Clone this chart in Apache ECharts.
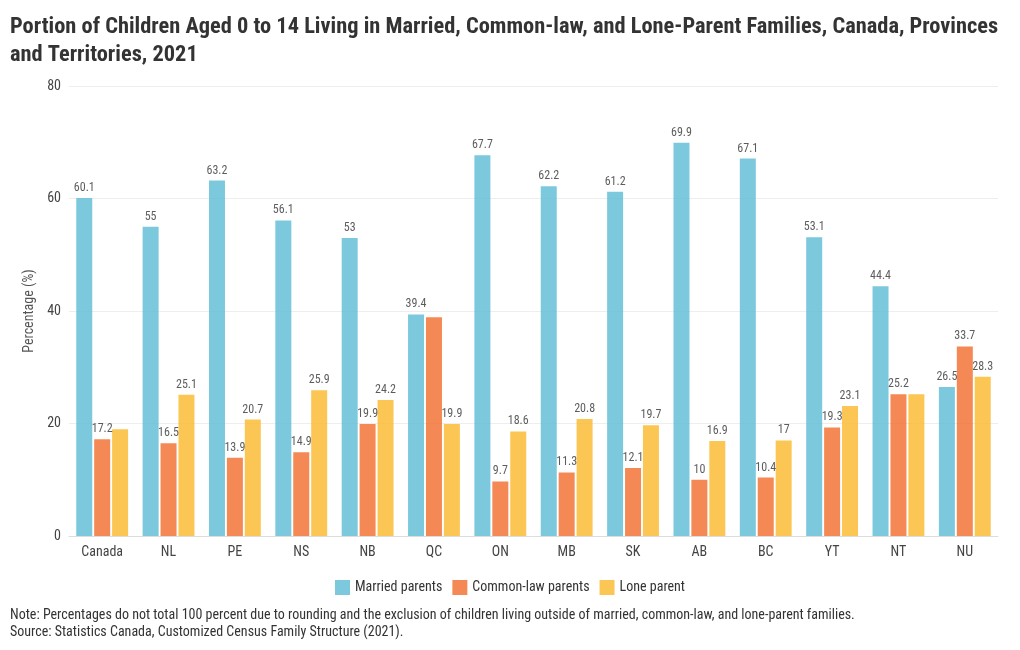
<!DOCTYPE html>
<html><head><meta charset="utf-8">
<script src="https://cdn.jsdelivr.net/npm/echarts@6/dist/echarts.min.js"></script>
<style>html,body{margin:0;padding:0;background:#fff}#c{width:1020px;height:650px}</style>
</head><body><div id="c"></div>
<script>
const categories = ['Canada','NL','PE','NS','NB','QC','ON','MB','SK','AB','BC','YT','NT','NU'];
const married = [60.1,55,63.2,56.1,53,39.4,67.7,62.2,61.2,69.9,67.1,53.1,44.4,26.5];
const commonLaw = [17.2,16.5,13.9,14.9,19.9,38.9,9.7,11.3,12.1,10,10.4,19.3,25.2,33.7];
const lone = [19.0,25.1,20.7,25.9,24.2,19.9,18.6,20.8,19.7,16.9,17,23.1,25.2,28.3];
const seriesNames = ['Married parents','Common-law parents','Lone parent'];
const yTicks = [0,20,40,60,80];
// labels not shown in the reference: [seriesIndex, categoryIndex]
const hiddenLabels = [[1,5],[2,0],[2,12]];

const FONT = "'Roboto Condensed','Liberation Sans Narrow','Roboto',sans-serif";
const colors = ['#5BBCD6','#F26B2A','#FBB829'];
const chart = echarts.init(document.getElementById('c'));
function mk(si, arr){
  return {
    name: seriesNames[si], type:'bar', barWidth:16, barGap:'12%',
    itemStyle:{color:colors[si], opacity:0.8},
    label:{show:true, position:'top', distance:4, fontFamily:FONT, fontSize:12, color:'#333'},
    data: arr.map((v,ci)=> hiddenLabels.some(h=>h[0]===si&&h[1]===ci) ? {value:v,label:{show:false}} : v)
  };
}
chart.setOption({
  animation:false,
  title:{text:'Portion of Children Aged 0 to 14 Living in Married, Common-law, and Lone-Parent Families, Canada, Provinces\nand Territories, 2021',
    left:5, top:8, textStyle:{fontFamily:FONT, fontSize:22.4, fontWeight:'bold', color:'#333', lineHeight:28}},
  legend:{bottom:50, left:'center', itemWidth:15, itemHeight:15, itemGap:10, icon:'rect',
    textStyle:{fontFamily:FONT, fontSize:14, color:'#333'}, data:seriesNames},
  grid:{left:69, right:22, top:86, bottom:114},
  xAxis:{type:'category', data:categories,
    axisLine:{lineStyle:{color:'#ddd'}}, axisTick:{show:false},
    axisLabel:{fontFamily:FONT, fontSize:14, color:'#444', margin:9}},
  yAxis:{type:'value', min:yTicks[0], max:yTicks[yTicks.length-1], interval:20,
    name:'Percentage (%)', nameLocation:'middle', nameGap:33,
    nameTextStyle:{fontFamily:FONT, fontSize:14, color:'#555'},
    axisLine:{show:false}, axisTick:{show:false},
    axisLabel:{fontFamily:FONT, fontSize:14, color:'#444', margin:8},
    splitLine:{lineStyle:{color:'#eee'}}},
  graphic:[{type:'text', left:10, top:607, style:{text:'Note: Percentages do not total 100 percent due to rounding and the exclusion of children living outside of married, common-law, and lone-parent families.\nSource: Statistics Canada, Customized Census Family Structure (2021).',
    fontFamily:FONT, fontSize:14, fill:'#333', lineHeight:17}}],
  series:[mk(0,married), mk(1,commonLaw), mk(2,lone)]
});
</script></body></html>
